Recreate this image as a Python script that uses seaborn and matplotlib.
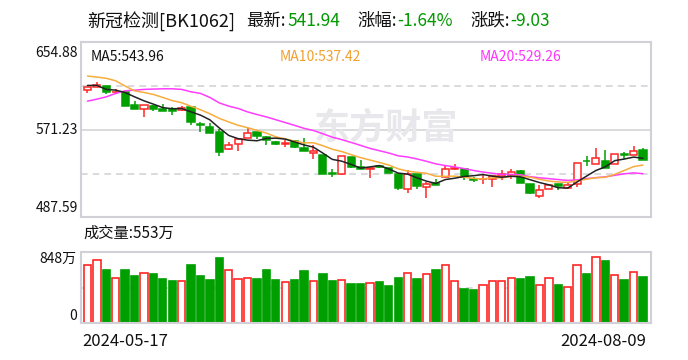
import matplotlib
matplotlib.use('Agg')
import matplotlib.pyplot as plt
import matplotlib.transforms as mtransforms
import numpy as np
import seaborn as sns

# K线数据: 2024-05-17 ~ 2024-08-09, 60个交易日
opens = [609.1, 612.5, 613.3, 607.0, 606.9, 594.7, 591.2, 594.1, 590.6, 591.2,
         590.0, 592.8, 577.2, 573.6, 569.1, 553.2, 558.0, 563.7, 569.1, 564.7,
         559.5, 558.0, 560.2, 553.8, 549.4, 547.4, 529.5, 528.8, 545.5, 535.5,
         534.0, 536.2, 534.6, 529.2, 514.8, 529.2, 516.4, 520.2, 525.9, 533.6,
         534.0, 524.4, 523.7, 524.0, 526.6, 526.6, 531.4, 518.9, 508.1, 514.8,
         518.9, 515.8, 519.6, 541.7, 538.8, 541.0, 538.1, 548.0, 546.8, 551.6]
highs = [612.3, 616.5, 613.5, 609.8, 607.2, 598.6, 594.7, 595.0, 595.4, 593.1,
         594.1, 592.8, 578.7, 577.5, 572.4, 559.5, 562.8, 573.0, 569.1, 565.3,
         560.2, 561.2, 561.2, 563.4, 556.4, 547.4, 533.3, 546.1, 545.5, 542.0,
         535.0, 537.2, 534.6, 529.2, 532.4, 529.2, 521.1, 524.4, 536.2, 538.8,
         534.0, 525.9, 527.6, 526.6, 532.4, 534.0, 532.4, 519.6, 518.0, 518.0,
         518.9, 520.2, 539.8, 545.8, 553.8, 551.6, 548.4, 549.6, 555.4, 554.2]
lows = [606.0, 611.7, 605.0, 605.0, 593.8, 591.2, 583.5, 589.3, 589.3, 585.8,
        589.3, 575.3, 569.1, 568.1, 546.1, 551.6, 550.6, 563.7, 562.1, 557.0,
        556.4, 554.7, 553.8, 550.9, 543.6, 529.2, 525.9, 527.6, 535.0, 533.3,
        525.4, 534.3, 529.8, 513.2, 510.6, 514.8, 506.2, 518.0, 525.9, 533.0,
        523.5, 521.1, 518.9, 516.4, 523.5, 524.4, 520.2, 509.4, 506.2, 514.8,
        513.9, 514.8, 516.4, 536.2, 538.1, 534.6, 538.1, 542.9, 546.8, 541.9]
closes = [611.7, 613.6, 607.5, 607.6, 594.1, 591.2, 594.7, 591.2, 589.5, 588.7,
          592.5, 578.7, 575.5, 568.1, 549.9, 557.0, 562.8, 568.6, 565.3, 561.2,
          558.0, 558.6, 554.7, 550.9, 550.9, 529.2, 528.8, 546.1, 535.5, 533.3,
          535.0, 535.3, 529.8, 515.4, 528.5, 517.3, 519.6, 518.6, 534.0, 535.0,
          525.9, 522.8, 524.4, 526.6, 529.2, 530.8, 520.2, 510.6, 513.2, 518.0,
          517.0, 518.6, 539.8, 541.3, 544.6, 534.6, 548.4, 547.1, 550.97, 541.94]
# 成交量(万)
volumes = [697, 756, 629, 541, 629, 557, 601, 581, 522, 498,
           506, 689, 557, 510, 772, 637, 529, 541, 522, 629,
           510, 494, 510, 617, 506, 581, 498, 518, 462, 462,
           482, 486, 438, 533, 601, 522, 589, 629, 697, 506,
           402, 390, 458, 506, 506, 541, 522, 545, 458, 541,
           450, 434, 697, 581, 792, 737, 577, 510, 613, 553]
# 均线
ma5 = [613.6, 613.6, 609.8, 609.1, 606.8, 602.7, 598.9, 595.7, 592.4, 591.3,
       591.5, 588.3, 585.2, 580.7, 572.9, 565.8, 562.7, 561.3, 560.7, 563.0,
       563.2, 562.3, 559.6, 556.7, 554.6, 548.9, 542.9, 541.2, 538.1, 534.6,
       535.7, 537.0, 533.8, 529.8, 528.8, 525.3, 522.1, 519.9, 523.6, 524.9,
       526.6, 527.3, 528.4, 526.9, 525.8, 526.8, 526.2, 523.5, 520.8, 518.6,
       515.8, 515.5, 521.3, 526.9, 532.3, 535.8, 541.7, 543.2, 545.1, 543.96]
ma10 = [622.6, 621.6, 620.4, 618.0, 613.0, 608.4, 606.9, 605.0, 602.1, 599.1,
        597.1, 593.6, 590.4, 586.5, 582.1, 578.7, 575.5, 573.2, 570.7, 568.0,
        564.5, 562.5, 560.4, 558.7, 558.8, 556.0, 552.6, 550.4, 547.4, 544.6,
        542.3, 540.0, 537.5, 533.9, 531.7, 530.5, 529.6, 526.8, 526.7, 526.9,
        525.9, 524.7, 524.2, 525.3, 525.3, 526.7, 526.8, 526.0, 523.9, 522.2,
        521.3, 520.9, 522.4, 523.9, 525.4, 525.8, 528.6, 532.3, 536.0, 537.42]
ma20 = [598.6, 600.5, 602.7, 606.0, 608.5, 609.1, 609.8, 610.1, 610.4, 610.4,
        609.8, 607.5, 606.0, 602.1, 596.9, 593.8, 591.6, 588.3, 585.8, 583.5,
        580.8, 578.1, 575.4, 572.6, 570.5, 567.4, 564.1, 561.8, 559.1, 556.3,
        553.4, 551.2, 549.0, 546.3, 545.2, 543.3, 541.1, 538.6, 537.0, 535.7,
        534.1, 532.3, 530.8, 529.6, 528.5, 528.6, 528.2, 526.4, 525.3, 524.5,
        523.6, 522.8, 523.3, 524.6, 525.4, 526.2, 527.7, 529.1, 530.0, 529.26]

price_ticks = [487.59, 571.23, 654.88]
vol_ticks = [0, 848]
vol_tick_labels = ['0', '848万']
date_labels = ['2024-05-17', '2024-08-09']

RED = '#ff2626'
GREEN = '#009f00'
GRID = '#d4d4d8'
FRAME = '#d0d0d6'
TXT = '#111111'

sns.set_theme(style='white')
plt.rcParams['font.family'] = ['Noto Sans CJK SC', 'DejaVu Sans']
plt.rcParams['axes.unicode_minus'] = False

W, H = 688, 360
fig = plt.figure(figsize=(W / 100, H / 100), dpi=100)
ax = fig.add_axes([81 / W, 1 - 217.25 / H, 570 / W, 175 / H])
axv = fig.add_axes([81 / W, 1 - 323 / H, 570 / W, 71 / H])

x = np.arange(len(closes))
up = np.array(closes) >= np.array(opens)
colors = np.where(up, RED, GREEN)
faces = np.where(up, 'white', GREEN)

# 网格
lo, mid, hi = price_ticks
for lvl in [(lo + mid) / 2, (mid + hi) / 2]:
    ax.axhline(lvl, color=GRID, lw=1.2, ls=(0, (4, 3)), zorder=0)
ax.axhline(mid, color=GRID, lw=1.2, zorder=0)
axv.axhline(vol_ticks[1] / 2, color=GRID, lw=1.2, ls=(0, (4, 3)), zorder=0)

# 水印
ax.text(0.535, 0.51, '东方财富', transform=ax.transAxes, fontsize=26,
        fontweight='bold', color='#e8e8ec', ha='center', va='center', zorder=0)

# K线
ax.vlines(x, lows, highs, colors=colors, lw=1.1, zorder=2)
bodies = np.abs(np.array(closes) - np.array(opens))
bottoms = np.minimum(opens, closes)
ax.bar(x, np.maximum(bodies, 0.4), bottom=bottoms, width=0.76,
       color=faces, edgecolor=colors, linewidth=1.1, zorder=3)

# 均线
sns.lineplot(x=x, y=ma20, ax=ax, color='#ff3cff', lw=1.1, zorder=4)
sns.lineplot(x=x, y=ma10, ax=ax, color='#f7ad3c', lw=1.1, zorder=4)
sns.lineplot(x=x, y=ma5, ax=ax, color='#222222', lw=1.1, zorder=5)

ax.set_xlim(-0.69, 59.85)
ax.set_ylim(lo, hi)
ax.set_xticks([])
ax.set_yticks([])
ax.set_ylabel('')

# 价格刻度
ytrans = mtransforms.blended_transform_factory(ax.transAxes, ax.transData)
for v, va, dy in [(lo, 'bottom', 2), (mid, 'center', 0), (hi, 'top', -4)]:
    tr = mtransforms.offset_copy(ytrans, fig=fig, x=-3, y=dy, units='dots')
    ax.text(0, v, f'{v:.2f}', transform=tr, ha='right', va=va, fontsize=10, color=TXT)

# 成交量
axv.bar(x, volumes, width=0.78, color=faces, edgecolor=colors, linewidth=1.2, zorder=2)
axv.set_xlim(-0.69, 59.85)
axv.set_ylim(0, vol_ticks[1])
axv.set_xticks([])
axv.set_yticks(vol_ticks)
axv.set_yticklabels(vol_tick_labels)
vl = axv.get_yticklabels()
vl[0].set_va('bottom')
vl[-1].set_va('top')

for a in (ax, axv):
    a.tick_params(axis='y', length=0, pad=3, labelsize=10, labelcolor=TXT)
    for s in a.spines.values():
        s.set_color(FRAME)
        s.set_linewidth(1.5)

# 文字
def px(xp, yp):
    return xp / W, 1 - yp / H

fig.text(*px(87, 21), '新冠检测[BK1062]', fontsize=13, color=TXT, ha='left', va='center')
title_parts = [('最新:', 246, TXT), ('541.94', 287, '#009900'), ('涨幅:', 357, TXT),
               ('-1.64%', 397, '#009900'), ('涨跌:', 470, TXT),
               ('-9.03', 510, '#009900')]
for txt, xp, c in title_parts:
    fig.text(*px(xp, 21), txt, fontsize=12.5, color=c, ha='left', va='center')

for txt, xp, c in [('MA5:543.96', 91, TXT), ('MA10:537.42', 280, '#f0a030'),
                   ('MA20:529.26', 480, '#ff33ff')]:
    fig.text(*px(xp, 57), txt, fontsize=10, color=c, ha='left', va='center')

fig.text(*px(83, 233), '成交量:553万', fontsize=11, color=TXT, ha='left', va='center')

trans = mtransforms.blended_transform_factory(axv.transData, fig.transFigure)
fig.text(*px(82, 342), date_labels[0], fontsize=12, color=TXT, ha='left', va='center')
axv.text(59.3, 1 - 342 / H, date_labels[1], transform=trans, fontsize=12,
         color=TXT, ha='right', va='center')

fig.savefig('out.png', dpi=100)
